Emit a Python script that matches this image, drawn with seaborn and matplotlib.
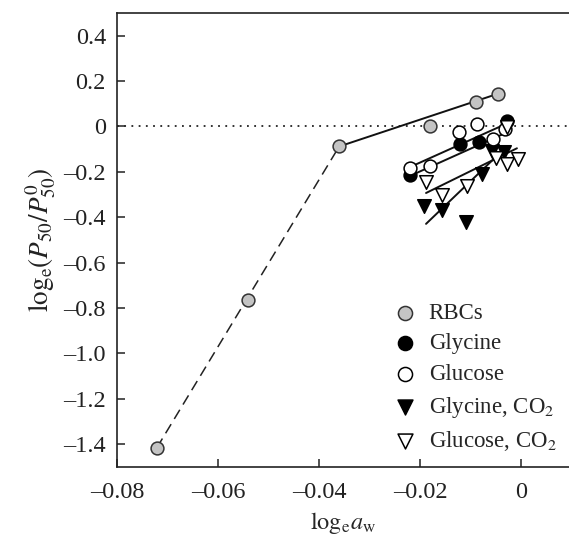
import numpy as np
import pandas as pd
import matplotlib
matplotlib.use('Agg')
import matplotlib.pyplot as plt
from matplotlib.ticker import FuncFormatter
import seaborn as sns

sns.set_style('ticks')
plt.rcParams['font.family'] = ['Liberation Serif', 'DejaVu Serif']
plt.rcParams['mathtext.fontset'] = 'stix'

# data
rbc_x = [-0.0721, -0.0541, -0.0360, -0.0180, -0.0089, -0.0046]
rbc_y = [-1.415, -0.766, -0.088, 0.0, 0.109, 0.144]

gly_x = [-0.0220, -0.0121, -0.0083, -0.0028]
gly_y = [-0.215, -0.079, -0.070, 0.026]

glu_x = [-0.0220, -0.0180, -0.0123, -0.0087, -0.0055, -0.0032]
glu_y = [-0.185, -0.175, -0.026, 0.013, -0.053, -0.010]

glyco2_x = [-0.0192, -0.0156, -0.0109, -0.0077, -0.0057, -0.0034]
glyco2_y = [-0.350, -0.368, -0.420, -0.210, -0.109, -0.114]

gluco2_x = [-0.0188, -0.0156, -0.0107, -0.0050, -0.0028, -0.0006, -0.0028]
gluco2_y = [-0.245, -0.302, -0.263, -0.140, -0.166, -0.144, -0.004]

# fitted lines (end points)
rbc_dash_x = [-0.0721, -0.0360]
rbc_dash_y = [-1.415, -0.088]
rbc_fit_x = [-0.0360, -0.0046]
rbc_fit_y = [-0.088, 0.144]
glu_fit_x = [-0.0220, -0.0032]
glu_fit_y = [-0.179, 0.009]
gly_fit_x = [-0.0216, -0.0028]
gly_fit_y = [-0.214, -0.026]
gluco2_fit_x = [-0.0188, -0.0008]
gluco2_fit_y = [-0.293, -0.096]
glyco2_fit_x = [-0.0188, -0.0030]
glyco2_fit_y = [-0.429, -0.092]

fig = plt.figure(figsize=(5.69, 5.37), dpi=100)
ax = fig.add_axes([0.2056, 0.1304, 0.7944, 0.8454])

ax.axhline(0, color='#222222', lw=1.3, ls=(0, (1, 3)), zorder=1)

sns.lineplot(x=rbc_dash_x, y=rbc_dash_y, ax=ax, color='#222222', lw=1.1,
             ls=(0, (7, 4)), sort=False, estimator=None, zorder=2)
for fx, fy in [(rbc_fit_x, rbc_fit_y), (glu_fit_x, glu_fit_y),
               (gly_fit_x, gly_fit_y), (gluco2_fit_x, gluco2_fit_y),
               (glyco2_fit_x, glyco2_fit_y)]:
    sns.lineplot(x=fx, y=fy, ax=ax, color='#111111', lw=1.4,
                 sort=False, estimator=None, zorder=2)

ms = 85
sns.scatterplot(x=rbc_x, y=rbc_y, ax=ax, marker='o', s=ms, color='#c4c4c4',
                edgecolor='#333333', linewidth=1.1, label='RBCs', zorder=3)
sns.scatterplot(x=gly_x, y=gly_y, ax=ax, marker='o', s=ms, color='black',
                edgecolor='black', linewidth=1.1, label='Glycine', zorder=3)
sns.scatterplot(x=glu_x, y=glu_y, ax=ax, marker='o', s=ms, color='white',
                edgecolor='black', linewidth=1.1, label='Glucose', zorder=4)
sns.scatterplot(x=glyco2_x, y=glyco2_y, ax=ax, marker='v', s=ms + 10, color='black',
                edgecolor='black', linewidth=1.1, label='Glycine, CO$_2$', zorder=3)
sns.scatterplot(x=gluco2_x, y=gluco2_y, ax=ax, marker='v', s=ms + 10, color='white',
                edgecolor='black', linewidth=1.1, label='Glucose, CO$_2$', zorder=4)

ax.set_xlim(-0.08, 0.00951)
ax.set_ylim(-1.5, 0.5)
ax.set_xticks([-0.08, -0.06, -0.04, -0.02, 0])
ax.set_yticks([0.4, 0.2, 0, -0.2, -0.4, -0.6, -0.8, -1.0, -1.2, -1.4])


def fmt_x(v, pos):
    if abs(v) < 1e-9:
        return '0'
    return ('%.2f' % v).replace('-', '\u2013')


def fmt_y(v, pos):
    if abs(v) < 1e-9:
        return '0'
    return ('%.1f' % v).replace('-', '\u2013')


ax.xaxis.set_major_formatter(FuncFormatter(fmt_x))
ax.yaxis.set_major_formatter(FuncFormatter(fmt_y))
ax.tick_params(direction='in', length=6, width=1.1, labelsize=17.5, pad=8,
               color='#222222', labelcolor='#222222')
ax.tick_params(axis='x', pad=11)
for side in ['left', 'bottom', 'top']:
    ax.spines[side].set_linewidth(1.2)
    ax.spines[side].set_color('#222222')
ax.spines['right'].set_visible(False)

ax.set_xlabel(r'$\mathrm{log}_\mathrm{e}a_\mathrm{w}$', fontsize=17.5, labelpad=5)
ax.set_ylabel(r'$\mathrm{log}_\mathrm{e}(P_{50}/P_{50}^{0})$', fontsize=19.5,
              labelpad=4, color='#222222')

ax.legend(loc='lower left', bbox_to_anchor=(0.611, 0.03), borderaxespad=0,
          borderpad=0, frameon=False, fontsize=16.5, handlelength=1.0,
          handletextpad=0.55, labelspacing=0.42, markerscale=1.1)

fig.savefig('out.png', dpi=100)
